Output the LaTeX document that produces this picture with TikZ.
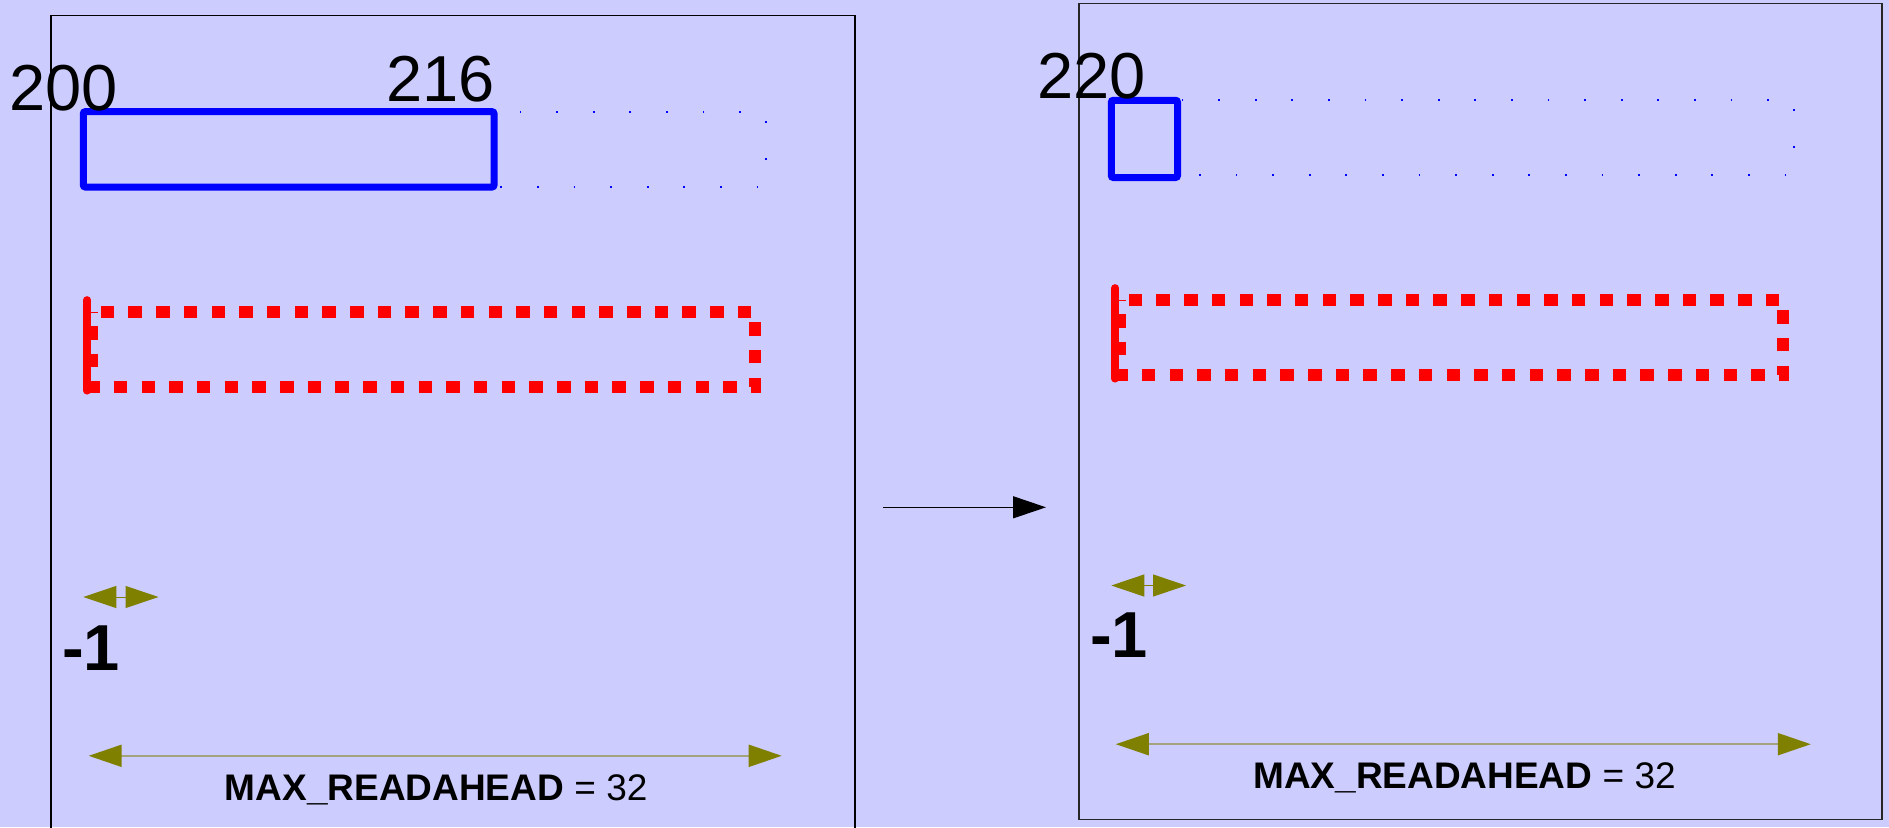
\documentclass[tikz,border=0pt]{standalone}
\usepackage{fontspec}
\setmainfont{Liberation Sans}
\usepackage{tikz}
\usetikzlibrary{arrows.meta,positioning}
\definecolor{pagelilac}{RGB}{204,204,255}
\definecolor{bufblue}{RGB}{0,0,255}
\definecolor{windowred}{RGB}{255,0,0}
\definecolor{measureolive}{RGB}{128,128,0}
\definecolor{shaftolive}{RGB}{163,163,128}
\tikzset{
  panel/.style={draw=black,line width=1.2pt},
  bufbox/.style={draw=bufblue,line width=7pt,rounded corners=2pt},
  spanbox/.style={draw=bufblue,line width=1.8pt,
    dash pattern=on 1.8pt off 34.8pt,dash phase=20pt},
  windowbox/.style={draw=windowred,line width=12pt,
    dash pattern=on 13.5pt off 14.2pt,dash phase=13.4pt},
  windowedge/.style={draw=windowred,line width=7.7pt,line cap=round},
  offsetlabel/.style={font=\fontsize{65}{70}\selectfont,inner sep=0pt,
    anchor=base west},
  gaplabel/.style={font=\fontsize{65}{70}\selectfont\bfseries,inner sep=0pt,
    anchor=base west},
  sizelabel/.style={font=\fontsize{37}{42}\selectfont,inner sep=0pt,
    anchor=base},
  measure/.style={{Triangle[length=33pt,width=22pt,color=measureolive]}-%
    {Triangle[length=33pt,width=22pt,color=measureolive]},
    line width=2pt,draw=shaftolive},
  gap/.style={measure,line width=1pt,draw=measureolive},
  flow/.style={-{Triangle[length=33pt,width=22pt]},line width=1.3pt,draw=black}
}

\begin{document}
\begin{tikzpicture}[x=1pt,y=-1pt]
  \fill[pagelilac] (0,0) rectangle (1889,827);
  \clip (0,0) rectangle (1889,827);

  % before
  \draw[panel] (51,15.3) rectangle (855,831.3);
  \draw[spanbox] (83.3,111.7) rectangle (766,187);
  \draw[bufbox] (83.3,111.7) rectangle (494,187);
  \node[offsetlabel] (start1) at (9,110) {200};
  \node[offsetlabel] (end1) at (386,101.7) {216};
  \draw[windowbox] (91.7,311.7) rectangle (755,387);
  \draw[windowedge] (87.2,300) -- (87.2,390.7);
  \coordinate (g1a) at (83.3,597);
  \coordinate (g1b) at (158.5,597);
  \draw[gap] (g1a) -- (g1b);
  \node[gaplabel] (gap1) at (62,670) {-1};
  \coordinate (m1a) at (88.7,755.8);
  \coordinate (m1b) at (781.7,755.8);
  \draw[measure] (m1a) -- (m1b);
  \node[sizelabel] (size1) at (436.2,800.7)
    {\textbf{MAX\_READAHEAD} = 32};

  % step
  \coordinate (fa) at (883,507.3);
  \coordinate (fb) at (1046,507.3);
  \draw[flow] (fa) -- (fb);

  % after
  \draw[panel,draw=black!85] (1079,3.3) rectangle (1882,819.3);
  \draw[spanbox] (1111.3,99.7) rectangle (1794,175);
  \draw[bufbox] (1111.3,100.3) rectangle (1177.5,177.5);
  \node[offsetlabel] (start2) at (1037,98) {220};
  \draw[windowbox] (1119.7,299.7) rectangle (1783,375);
  \draw[windowedge] (1115.2,288) -- (1115.2,378.7);
  \coordinate (g2a) at (1111.3,585.5);
  \coordinate (g2b) at (1186,585.5);
  \draw[gap] (g2a) -- (g2b);
  \node[gaplabel] (gap2) at (1090,657.3) {-1};
  \coordinate (m2a) at (1115.8,744.2);
  \coordinate (m2b) at (1810.8,744.2);
  \draw[measure] (m2a) -- (m2b);
  \node[sizelabel] (size2) at (1464.5,788.3)
    {\textbf{MAX\_READAHEAD} = 32};
\end{tikzpicture}
\end{document}
